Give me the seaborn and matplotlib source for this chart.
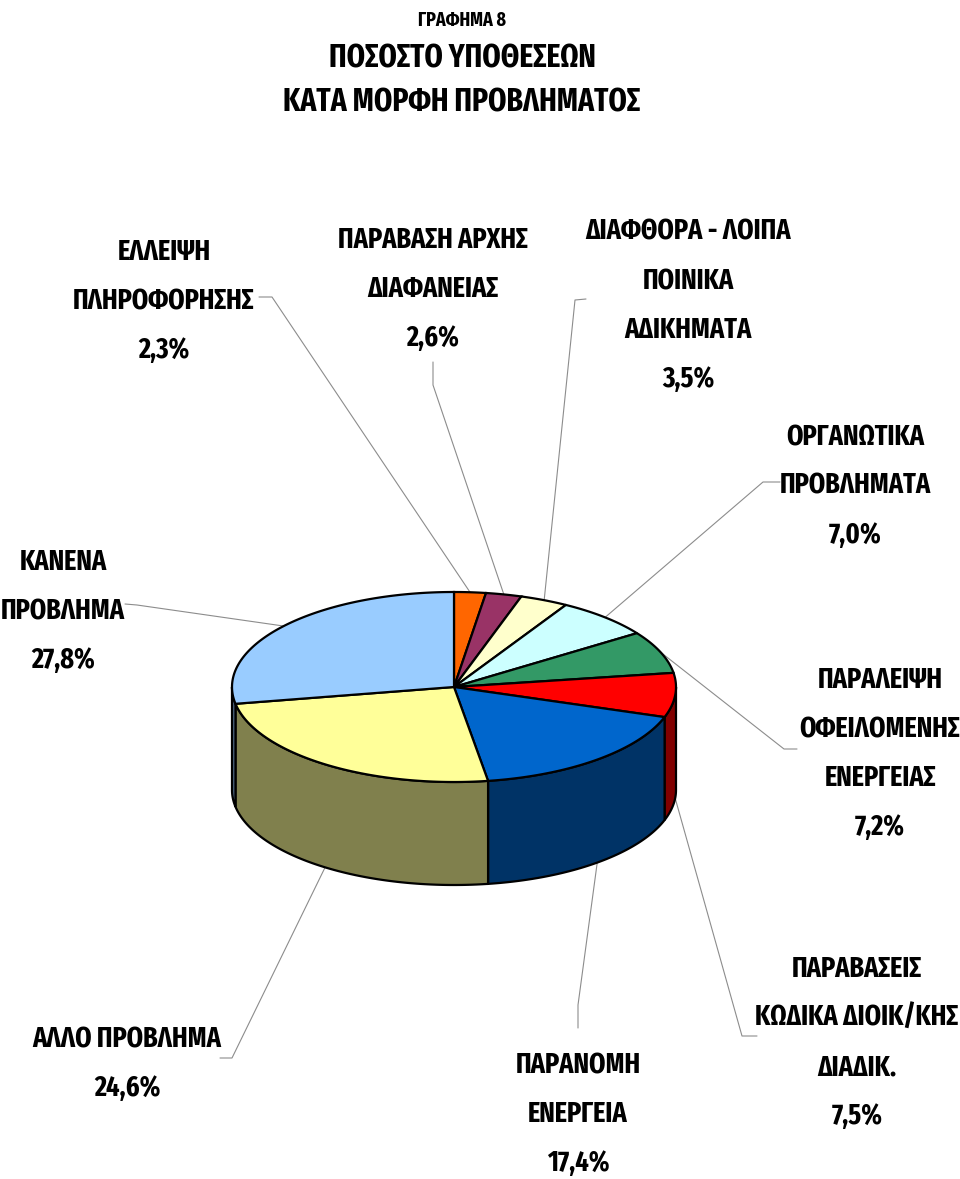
import numpy as np
import matplotlib
matplotlib.use("Agg")
import matplotlib.pyplot as plt
from matplotlib.patches import Polygon
from matplotlib.colors import to_rgb
import seaborn as sns

# Δεδομένα (με τη σειρά του ρολογιού, από τις 12)
categories = [
    "ΕΛΛΕΙΨΗ\nΠΛΗΡΟΦΟΡΗΣΗΣ",
    "ΠΑΡΑΒΑΣΗ ΑΡΧΗΣ\nΔΙΑΦΑΝΕΙΑΣ",
    "ΔΙΑΦΘΟΡΑ - ΛΟΙΠΑ\nΠΟΙΝΙΚΑ\nΑΔΙΚΗΜΑΤΑ",
    "ΟΡΓΑΝΩΤΙΚΑ\nΠΡΟΒΛΗΜΑΤΑ",
    "ΠΑΡΑΛΕΙΨΗ\nΟΦΕΙΛΟΜΕΝΗΣ\nΕΝΕΡΓΕΙΑΣ",
    "ΠΑΡΑΒΑΣΕΙΣ\nΚΩΔΙΚΑ ΔΙΟΙΚ/ΚΗΣ\nΔΙΑΔΙΚ.",
    "ΠΑΡΑΝΟΜΗ\nΕΝΕΡΓΕΙΑ",
    "ΑΛΛΟ ΠΡΟΒΛΗΜΑ",
    "ΚΑΝΕΝΑ\nΠΡΟΒΛΗΜΑ",
]
values = [2.3, 2.6, 3.5, 7.0, 7.2, 7.5, 17.4, 24.6, 27.8]
colors = ["#FF6600", "#993366", "#FFFFCC", "#CCFFFF", "#339966",
          "#FF0000", "#0066CC", "#FFFF99", "#99CCFF"]

# Θέσεις ετικετών (κέντρο x, πρώτη baseline) και σημεία οδηγών γραμμών
label_pos = [(164, 260), (433, 248), (688, 240), (855, 445), (880, 688),
             (857, 977), (578, 1073), (127, 1047), (63, 570)]
leader_pts = [
    [(259, 297), (272, 297)],
    [(433, 362), (433, 385)],
    [(586, 299), (575, 300)],
    [(780, 482), (763, 482)],
    [(797, 749), (784, 749)],
    [(757, 1036), (742, 1036)],
    [(578, 1028), (578, 1005)],
    [(220, 1058), (232, 1058)],
    [(125, 604), (137, 605)],
]

CX, CY, RX, RY, DEPTH = 454, 687, 222, 95, 103
LINE_STEP = 49


def pt(theta, dz=0.0):
    t = np.radians(theta)
    return CX + RX * np.cos(t), CY - RY * np.sin(t) + dz


def arc(a, b, dz=0.0, n=120):
    th = np.linspace(a, b, n)
    return [pt(t, dz) for t in th]


def main():
    sns.set_theme(style="white")
    plt.rcParams["font.family"] = ["Fira Sans Extra Condensed", "DejaVu Sans"]
    plt.rcParams["text.color"] = "black"

    fig = plt.figure(figsize=(9.6, 11.79), dpi=100)
    ax = fig.add_axes([0, 0, 1, 1])
    ax.set_xlim(0, 960)
    ax.set_ylim(1179, 0)
    ax.axis("off")

    vals = np.array(values)
    cum = np.concatenate([[0], np.cumsum(vals / vals.sum())])
    starts = 90 - 360 * cum[:-1]
    ends = 90 - 360 * cum[1:]

    # Πλευρές (μόνο το μπροστινό μισό του κυλίνδρου)
    for a, b, c in zip(starts, ends, colors):
        hi, lo = min(a, 0), max(b, -180)
        if lo < hi:
            poly = arc(hi, lo) + arc(lo, hi, DEPTH)
            dark = tuple(np.array(to_rgb(c)) * 0.5)
            ax.add_patch(Polygon(poly, closed=True, facecolor=dark,
                                 edgecolor="black", lw=1.6, zorder=2))

    # Πάνω επιφάνεια
    for a, b, c in zip(starts, ends, colors):
        poly = [(CX, CY)] + arc(a, b)
        ax.add_patch(Polygon(poly, closed=True, facecolor=c,
                             edgecolor="black", lw=1.6, zorder=3))

    # Ετικέτες και οδηγοί
    for i, (name, v) in enumerate(zip(categories, values)):
        mid = (starts[i] + ends[i]) / 2
        front = np.sin(np.radians(mid)) < 0
        px, py = pt(mid, DEPTH if front else 0)
        pts = leader_pts[i] + [(px, py)]
        ax.plot([p[0] for p in pts], [p[1] for p in pts],
                color="#8C8C8C", lw=0.8, zorder=1)

        lines = name.split("\n") + [f"{v:.1f}%".replace(".", ",")]
        x0, y0 = label_pos[i]
        for k, line in enumerate(lines):
            ax.text(x0, y0 + k * LINE_STEP, line, ha="center", va="baseline",
                    fontsize=20.5, fontweight="bold", color="black")

    # Τίτλος
    ax.text(462, 26, "ΓΡΑΦΗΜΑ 8", ha="center", va="baseline",
            fontsize=14, fontweight="bold", color="black")
    ax.text(462, 67, "ΠΟΣΟΣΤΟ ΥΠΟΘΕΣΕΩΝ", ha="center", va="baseline",
            fontsize=23, fontweight="bold", color="black")
    ax.text(462, 112, "ΚΑΤΑ ΜΟΡΦΗ ΠΡΟΒΛΗΜΑΤΟΣ", ha="center", va="baseline",
            fontsize=23, fontweight="bold", color="black")

    fig.savefig("out.png", dpi=100, facecolor="white")


if __name__ == "__main__":
    main()
